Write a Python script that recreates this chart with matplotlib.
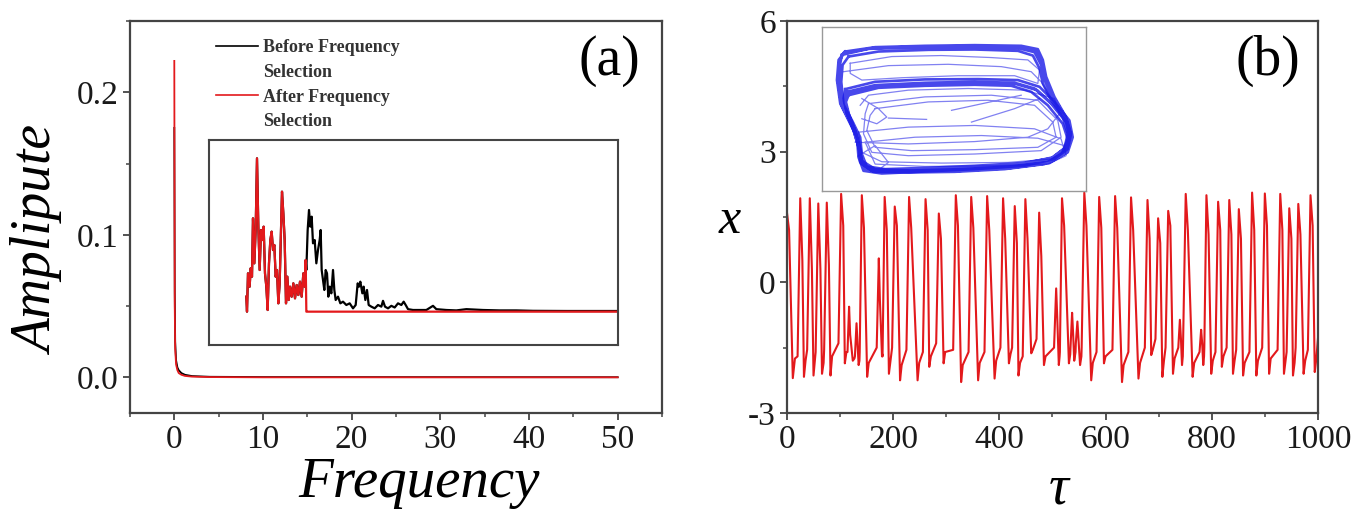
import matplotlib
matplotlib.use("Agg")
import matplotlib.pyplot as plt
from matplotlib.lines import Line2D
from matplotlib.ticker import MultipleLocator

plt.rcParams['font.family'] = ['Liberation Serif', 'DejaVu Serif']
plt.rcParams['axes.unicode_minus'] = False

nan = float("nan")
RED = "#e3191c"
BLUE = "#1a1ae6"
SPINE = "#444444"

# ---------------- (a) spectrum ----------------
main_freq = [0.0, 0.05, 0.1, 0.2, 0.35, 0.5, 0.8, 1.2, 2.0, 4.0, 10.0, 50.0]
main_before = [0.175, 0.06, 0.025, 0.012, 0.007, 0.005, 0.003, 0.0018, 0.0009, 0.0004, 0.0002, 0.0001]
main_after = [0.222, 0.05, 0.02, 0.009, 0.005, 0.003, 0.0018, 0.001, 0.0005, 0.0002, 0.0, 0.0]

# inset of (a): selected band (kept) and the rest (removed), amplitude x1e-3
sel_freq = [.280, .284, .290, .300, .306, .314, .320, .328, .336, .344, .352, .360, .368, .376, .384,
            .392, .400, .408, .416, .424, .432, .440, .448, .456, .464, .472, .480, .488, .494, .502,
            .510, .518, .526, .534, .542, .552, .562, .572, .582, .592, .602, .612, .622, .630, .636]
sel_amp = [1.8, 0, 4.6, 3.0, 5.2, 4.2, 11.2, 5.8, 9.8, 18.4, 10.2, 5.0, 9.8, 8.6, 10.2,
           4.6, 3.0, 0.2, 5.8, 8.6, 9.6, 7.4, 8.0, 4.2, 5.0, 1.0, 3.4, 9.8, 14.4, 11.8,
           8.6, 1.0, 4.2, 1.4, 3.0, 1.8, 3.4, 1.6, 3.2, 2.0, 3.6, 1.8, 4.6, 3.0, 6.2]
rest_freq = [.640, .648, .656, .664, .672, .680, .690, .700, .710, .720, .726, .732, .740, .748, .756,
             .764, .772, .780, .790, .800, .808, .816, .830, .844, .860, .880, .900, .920, .936, .948,
             .956, .964, .976, .984, .994, 1.004, 1.014, 1.030, 1.050, 1.070, 1.090, 1.100, 1.112, 1.130,
             1.150, 1.170, 1.190, 1.210, 1.224, 1.236, 1.250, 1.280, 1.320, 1.360, 1.400, 1.420, 1.480,
             1.540, 1.600, 1.700, 1.800, 1.900, 2.000, 2.200, 2.510]
rest_amp = [5.0, 9.8, 12.2, 10.2, 11.4, 8.2, 8.6, 5.8, 7.4, 8.6, 9.8, 5.0, 3.8, 2.6, 5.0,
            4.6, 1.8, 3.0, 2.2, 5.0, 2.6, 1.4, 1.8, 1.0, 1.2, 0.8, 1.0, 0.4, 0.8, 3.4,
            3.0, 3.6, 2.2, 3.0, 1.4, 2.6, 0.8, 0.6, 0.4, 0.8, 0.6, 1.3, 0.6, 0.4,
            0.7, 0.5, 1.0, 0.8, 1.2, 0.8, 0.3, 0.2, 0.2, 0.2, 0.7, 0.3, 0.2,
            0.15, 0.3, 0.2, 0.15, 0.15, 0.1, 0.08, 0.08]

# ---------------- (b) time series ----------------
start_tau = [0, 4, 11, 15]
start_x = [1.60, 1.20, -2.20, -1.75]
rise_tau = [20, 38, 54, 70, 97, 114, 128, 137, 169, 180, 198, 225, 256, 281, 313, 342, 372, 402, 424,
            444, 470, 503, 514, 534, 544, 555, 583, 613, 643, 674, 694, 713, 737, 746, 777, 786, 807,
            828, 846, 871, 895, 924, 941, 958, 981]
peak_tau = [25, 43, 59, 75, 102, 117, 131, 141, 173, 184, 203, 230, 261, 286, 318, 347, 377, 407, 429,
            449, 475, 507, 518, 537, 547, 560, 588, 618, 648, 679, 699, 718, 740, 751, 780, 790, 812,
            833, 851, 876, 900, 929, 946, 963, 986]
peak_x = [1.93, 1.93, 1.81, 1.83, 2.03, -0.56, -0.94, 2.00, 0.55, 1.96, 1.74, 1.96, 1.91, 1.58, 2.00,
          1.96, 1.98, 1.93, 1.75, 1.91, 1.60, -0.14, 1.93, -0.70, -0.90, 2.06, 1.96, 1.98, 1.95, 1.89,
          1.47, 1.64, -0.86, 2.03, -1.09, 2.00, 1.85, 1.89, 1.68, 2.06, 2.04, 2.03, 1.70, 1.80, 2.00]
shoulder_tau = [29, 47, 63, 79, 106, 119, 133, 145, 175, 188, 207, 234, 265, 290, 322, 351, 381, 411, 433,
                453, 479, 509, 522, 539, 549, 564, 592, 622, 652, 683, 703, 722, 742, 755, 782, 794, 816,
                837, 855, 880, 904, 933, 950, 967, 990]
shoulder_x = [0.5, 0.3, 0.3, 0.4, 1.3, -1.2, -1.4, 1.25, -0.4, 1.2, 1.3, 1.25, 1.2, 1.0, 1.3,
              1.25, 1.2, 1.0, 0.9, 1.0, 0.6, -0.8, 1.3, -1.2, -1.3, 1.3, 1.25, 1.25, 1.2, 1.0,
              0.9, 1.3, -1.3, 1.2, -1.4, 1.1, 1.2, 1.1, 1.0, 1.2, 1.3, 1.2, 1.0, 1.1, 1.3]
trough_tau = [32, 50, 66, 82, 109, 124, 135, 151, 179, 192, 213, 246, 268, 295, 328, 360, 391, 418, 436,
              460, 484, 512, 531, 541, 552, 573, 597, 631, 662, 686, 707, 727, 744, 764, 784, 799, 819,
              840, 859, 884, 908, 936, 953, 973, 994]
trough_x = [-2.17, -2.14, -2.10, -2.14, -1.86, -1.80, -1.90, -2.17, -1.70, -2.10, -2.25, -2.25, -1.94, -1.86,
            -2.29, -2.25, -2.21, -1.86, -2.14, -1.63, -1.90, -1.90, -1.86, -1.80, -1.90, -2.25, -1.86, -2.29,
            -2.21, -1.67, -2.17, -2.10, -1.90, -2.17, -1.90, -2.10, -1.94, -2.10, -2.14, -2.14, -2.10, -2.10,
            -2.14, -2.10, -2.06]
plateau_x = [-1.80, -1.75, -1.85, -1.70, -1.60, -1.75, -1.80, -1.85, -1.65, -1.80, -1.90, -1.85, -1.70,
             -1.60, -1.90, -1.85, -1.80, -1.65, -1.85, -1.55, -1.70, -1.70, -1.65, -1.60, -1.70, -1.85,
             -1.70, -1.90, -1.85, -1.55, -1.80, -1.75, -1.70, -1.85, -1.70, -1.80, -1.70, -1.80, -1.85,
             -1.80, -1.75, -1.80, -1.85, -1.80, -1.75]
base_x = [-1.70, -1.55, -1.60, -1.55, -1.40, -1.60, -1.70, -1.60, -1.50, -1.70, -1.50, -1.55, -1.60, -1.40,
          -1.55, -1.60, -1.60, -1.50, -1.50, -1.70, -1.30, -1.50, -1.60, -1.50, -1.40, -1.50, -1.60, -1.55,
          -1.60, -1.50, -1.30, -1.50, -1.50, -1.40, -1.60, -1.50, -1.60, -1.50, -1.55, -1.60, -1.50, -1.55,
          -1.60, -1.50, -1.55]
end_tau = [1000]
end_x = [-1.30]
RECOVER = 3   # time from trough back to the low plateau

# inset of (b): attractor, traced loops (nan separates loops)
outer_x = [1.10, 2.00, 3.50, 5.00, 6.40, 6.90, 7.05, 7.15, 7.40, 7.75, 7.90, 7.80, 7.40, 6.50, 5.00, 3.50,
           2.20, 1.65, 1.50, 1.45, 1.20, 0.95, 0.85, 0.90, 1.10, nan,
           1.00, 1.80, 3.40, 5.10, 6.30, 6.80, 7.00, 7.10, 7.35, 7.70, 7.85, 7.75, 7.35, 6.40, 5.00, 3.60,
           2.30, 1.70, 1.55, 1.50, 1.28, 1.02, 0.92, 0.95, 1.00, nan,
           1.20, 2.10, 3.60, 5.00, 6.30, 6.75, 6.95, 7.05, 7.30, 7.65, 7.80, 7.70, 7.30, 6.40, 5.00, 3.60,
           2.30, 1.75, 1.60, 1.55, 1.32, 1.05, 0.98, 1.02, 1.20, nan,
           1.05, 1.90, 3.45, 5.05, 6.35, 6.85, 7.02, 7.12, 7.38, 7.72, 7.88, 7.78, 7.38, 6.45, 5.00, 3.55,
           2.25, 1.68, 1.52, 1.47, 1.24, 0.98, 0.88, 0.92, 1.05]
outer_y = [4.30, 4.43, 4.47, 4.49, 4.47, 4.37, 4.05, 3.55, 2.95, 2.35, 1.85, 1.40, 1.10, 0.90, 0.80, 0.73,
           0.67, 0.75, 1.15, 1.75, 2.25, 2.75, 3.45, 4.05, 4.30, nan,
           4.20, 4.38, 4.42, 4.42, 4.40, 4.28, 3.90, 3.45, 2.90, 2.40, 1.90, 1.45, 1.15, 0.95, 0.85, 0.78,
           0.72, 0.82, 1.20, 1.70, 2.20, 2.70, 3.40, 3.95, 4.20, nan,
           4.15, 4.30, 4.35, 4.36, 4.32, 4.18, 3.80, 3.35, 2.85, 2.35, 1.85, 1.42, 1.12, 0.98, 0.90, 0.84,
           0.80, 0.88, 1.25, 1.75, 2.22, 2.72, 3.40, 3.90, 4.15, nan,
           4.25, 4.40, 4.45, 4.46, 4.44, 4.33, 3.98, 3.50, 2.92, 2.38, 1.88, 1.42, 1.13, 0.93, 0.83, 0.76,
           0.70, 0.78, 1.18, 1.72, 2.22, 2.72, 3.42, 4.00, 4.25]
lower_x = [1.15, 2.00, 3.50, 5.00, 6.20, 6.80, 7.30, 7.75, 7.85, 7.70, 7.20, 6.00, 4.50, 3.00, 1.90, 1.55,
           1.50, 1.35, 1.15, 1.08, 1.15, nan,
           1.20, 2.10, 3.50, 5.00, 6.10, 6.70, 7.20, 7.65, 7.80, 7.62, 7.10, 5.90, 4.40, 3.00, 1.95, 1.60,
           1.55, 1.42, 1.22, 1.12, 1.20, nan,
           1.10, 2.00, 3.50, 5.10, 6.30, 6.95, 7.40, 7.85, 7.95, 7.80, 7.30, 6.10, 4.60, 3.10, 2.00, 1.60,
           1.52, 1.38, 1.18, 1.05, 1.10, nan,
           1.18, 2.05, 3.50, 5.05, 6.25, 6.88, 7.35, 7.80, 7.90, 7.75, 7.25, 6.05, 4.55, 3.05, 1.95, 1.58,
           1.51, 1.36, 1.16, 1.06, 1.18]
lower_y = [3.10, 3.30, 3.37, 3.40, 3.37, 3.20, 2.75, 2.20, 1.75, 1.30, 1.00, 0.85, 0.77, 0.73, 0.75, 1.00,
           1.45, 1.95, 2.45, 2.85, 3.10, nan,
           3.00, 3.22, 3.28, 3.31, 3.28, 3.10, 2.70, 2.15, 1.70, 1.25, 0.95, 0.80, 0.72, 0.70, 0.72, 0.95,
           1.40, 1.90, 2.40, 2.80, 3.00, nan,
           3.18, 3.40, 3.47, 3.48, 3.45, 3.25, 2.80, 2.25, 1.75, 1.30, 1.02, 0.88, 0.80, 0.76, 0.80, 1.05,
           1.50, 2.00, 2.50, 2.90, 3.18, nan,
           3.05, 3.26, 3.33, 3.36, 3.33, 3.15, 2.72, 2.18, 1.72, 1.28, 0.98, 0.83, 0.75, 0.72, 0.74, 0.98,
           1.43, 1.93, 2.43, 2.83, 3.05]
inner_x = [1.80, 3.50, 5.50, 6.90, 7.50, 7.60, 7.00, 5.00, 3.00, 1.90, 1.65, 1.70, 1.80, nan,
           2.00, 3.60, 5.40, 6.80, 7.35, 7.45, 6.90, 5.00, 3.10, 2.00, 1.75, 1.85, 2.00, nan,
           1.25, 2.50, 4.00, 5.50, 6.60, 6.95, 6.90, 6.20, 4.50, 2.80, 1.60, 1.25, 1.25, nan,
           1.05, 2.40, 4.20, 5.80, 6.70, 7.00, 7.25, 7.60, nan,
           1.40, 3.00, 5.00, 6.60, 7.20, 7.55, 7.40, 6.50, 4.80, 3.00, 1.80, 1.55, nan,
           1.50, 3.00, 5.00, 6.80, 7.60, 7.70, 7.30, 6.00, 4.00, 2.20, 1.60, 1.50, nan,
           1.70, 3.20, 5.20, 6.90, 7.70, 7.75, 7.20, 5.50, 3.50, 2.00, 1.70, nan,
           1.60, 2.10, 2.35, 2.05, 1.60, nan, 2.40, 3.55, nan, 4.90, 6.20, 6.95, nan,
           4.30, 6.40, nan, 1.50, 2.00, 2.40, 2.20]
inner_y = [2.75, 2.95, 3.00, 2.85, 2.25, 1.75, 1.35, 1.25, 1.20, 1.30, 1.85, 2.45, 2.75, nan,
           2.60, 2.80, 2.85, 2.70, 2.20, 1.75, 1.45, 1.38, 1.35, 1.45, 1.95, 2.40, 2.60, nan,
           3.95, 4.15, 4.18, 4.12, 4.05, 3.75, 3.35, 3.58, 3.58, 3.52, 3.45, 3.65, 3.95, nan,
           3.70, 3.88, 3.92, 3.85, 3.70, 3.40, 3.00, 2.45, nan,
           1.60, 1.55, 1.62, 1.75, 2.00, 2.45, 2.90, 3.15, 3.20, 3.15, 3.00, 2.70, nan,
           1.90, 2.05, 2.10, 2.00, 1.70, 1.35, 1.10, 1.00, 0.98, 1.02, 1.30, 1.90, nan,
           1.60, 1.75, 1.80, 1.72, 1.50, 1.20, 0.95, 0.90, 0.88, 0.95, 1.60, nan,
           2.90, 2.60, 2.35, 2.15, 2.30, nan, 2.32, 2.28, nan, 2.20, 2.60, 2.90, nan,
           2.55, 3.00, nan, 1.20, 1.50, 1.00, 0.85]


def style_axes(ax, labelsize=24):
    for s in ax.spines.values():
        s.set_color(SPINE)
        s.set_linewidth(1.6)
    ax.tick_params(which="major", direction="out", length=5, width=1.3, labelsize=labelsize,
                   pad=3, color=SPINE, labelcolor="#1a1a1a")
    ax.tick_params(which="minor", direction="out", length=3, width=1.1, color=SPINE)


def plain_inset(ax, edge, lw):
    ax.set_xticks([])
    ax.set_yticks([])
    for s in ax.spines.values():
        s.set_color(edge)
        s.set_linewidth(lw)


fig = plt.figure(figsize=(13.58, 5.17), dpi=100)

# ---- panel (a) ----
ax_a = fig.add_axes([0.0957, 0.2012, 0.3918, 0.7582])
ax_a.plot(main_freq, main_before, color="black", lw=1.3)
ax_a.plot(main_freq, main_after, color=RED, lw=1.3)
ax_a.set_xlim(-5, 55)
ax_a.set_ylim(-0.025, 0.25)
ax_a.set_xticks(range(0, 51, 10))
ax_a.xaxis.set_minor_locator(MultipleLocator(5))
ax_a.set_yticks([0.0, 0.1, 0.2])
ax_a.yaxis.set_minor_locator(MultipleLocator(0.05))
style_axes(ax_a)
ax_a.set_xlabel("Frequency", fontsize=41, style="italic")
ax_a.xaxis.set_label_coords(0.543, -0.214)
ax_a.xaxis.label.set_va("baseline")
ax_a.set_ylabel("Amplipute", fontsize=40, style="italic")
ax_a.yaxis.set_label_coords(-0.122, 0.439)
ax_a.text(0.96, 0.898, "(a)", transform=ax_a.transAxes, ha="right", va="center", fontsize=40)

handles = [Line2D([], [], color="black", lw=1.2), Line2D([], [], lw=0),
           Line2D([], [], color=RED, lw=1.2), Line2D([], [], lw=0)]
labels = ["Before Frequency", "Selection", "After Frequency", "Selection"]
ax_a.legend(handles, labels, loc="upper left", bbox_to_anchor=(0.162, 0.954), frameon=False,
            prop={"size": 13, "weight": "bold"}, labelcolor="#333333", handlelength=2.3,
            handletextpad=0.3, labelspacing=0.43, borderpad=0, borderaxespad=0)

ins_a = fig.add_axes([0.1539, 0.3327, 0.3012, 0.3965])
before_freq = sel_freq + rest_freq
before_amp = sel_amp + rest_amp
after_amp = sel_amp + [0.0] * len(rest_freq)
ins_a.plot(before_freq, before_amp, color="black", lw=1.6)
ins_a.plot(before_freq, after_amp, color=RED, lw=1.6)
ins_a.set_xlim(0.056, 2.51)
ins_a.set_ylim(-4, 20.6)
plain_inset(ins_a, SPINE, 1.5)

# ---- panel (b) ----
tau_pts = list(start_tau)
x_pts = list(start_x)
n = len(peak_tau)
for i in range(n):
    next_rise = rise_tau[i + 1] if i + 1 < n else end_tau[0]
    rec = min(trough_tau[i] + RECOVER, next_rise - 0.5)
    tau_pts += [rise_tau[i], peak_tau[i], shoulder_tau[i], trough_tau[i], rec]
    x_pts += [base_x[i], peak_x[i], shoulder_x[i], trough_x[i], plateau_x[i]]
tau_pts += end_tau
x_pts += end_x

ax_b = fig.add_axes([0.5795, 0.2012, 0.3910, 0.7582])
ax_b.plot(tau_pts, x_pts, color=RED, lw=1.5)
ax_b.set_xlim(0, 1000)
ax_b.set_ylim(-3, 6)
ax_b.set_xticks(range(0, 1001, 200))
ax_b.xaxis.set_minor_locator(MultipleLocator(100))
ax_b.set_yticks([-3, 0, 3, 6])
ax_b.yaxis.set_minor_locator(MultipleLocator(1.5))
style_axes(ax_b)
ax_b.set_xlabel("τ", fontsize=40, style="italic")
ax_b.xaxis.set_label_coords(0.512, -0.232)
ax_b.xaxis.label.set_va("baseline")
ax_b.set_ylabel("x", fontsize=36, style="italic", rotation=0, va="center", ha="center")
ax_b.yaxis.set_label_coords(-0.107, 0.49)
ax_b.text(0.966, 0.898, "(b)", transform=ax_b.transAxes, ha="right", va="center", fontsize=40)

ins_b = fig.add_axes([0.6053, 0.6306, 0.1944, 0.3172])
ins_b.plot(outer_x, outer_y, color=BLUE, lw=1.9, alpha=0.8, solid_joinstyle="round")
ins_b.plot(lower_x, lower_y, color=BLUE, lw=1.9, alpha=0.8, solid_joinstyle="round")
ins_b.plot(inner_x, inner_y, color=BLUE, lw=0.9, alpha=0.55)
ins_b.set_xlim(0.40, 8.35)
ins_b.set_ylim(0.15, 5.03)
plain_inset(ins_b, "#999999", 1.0)

fig.savefig("out.png", dpi=100)
